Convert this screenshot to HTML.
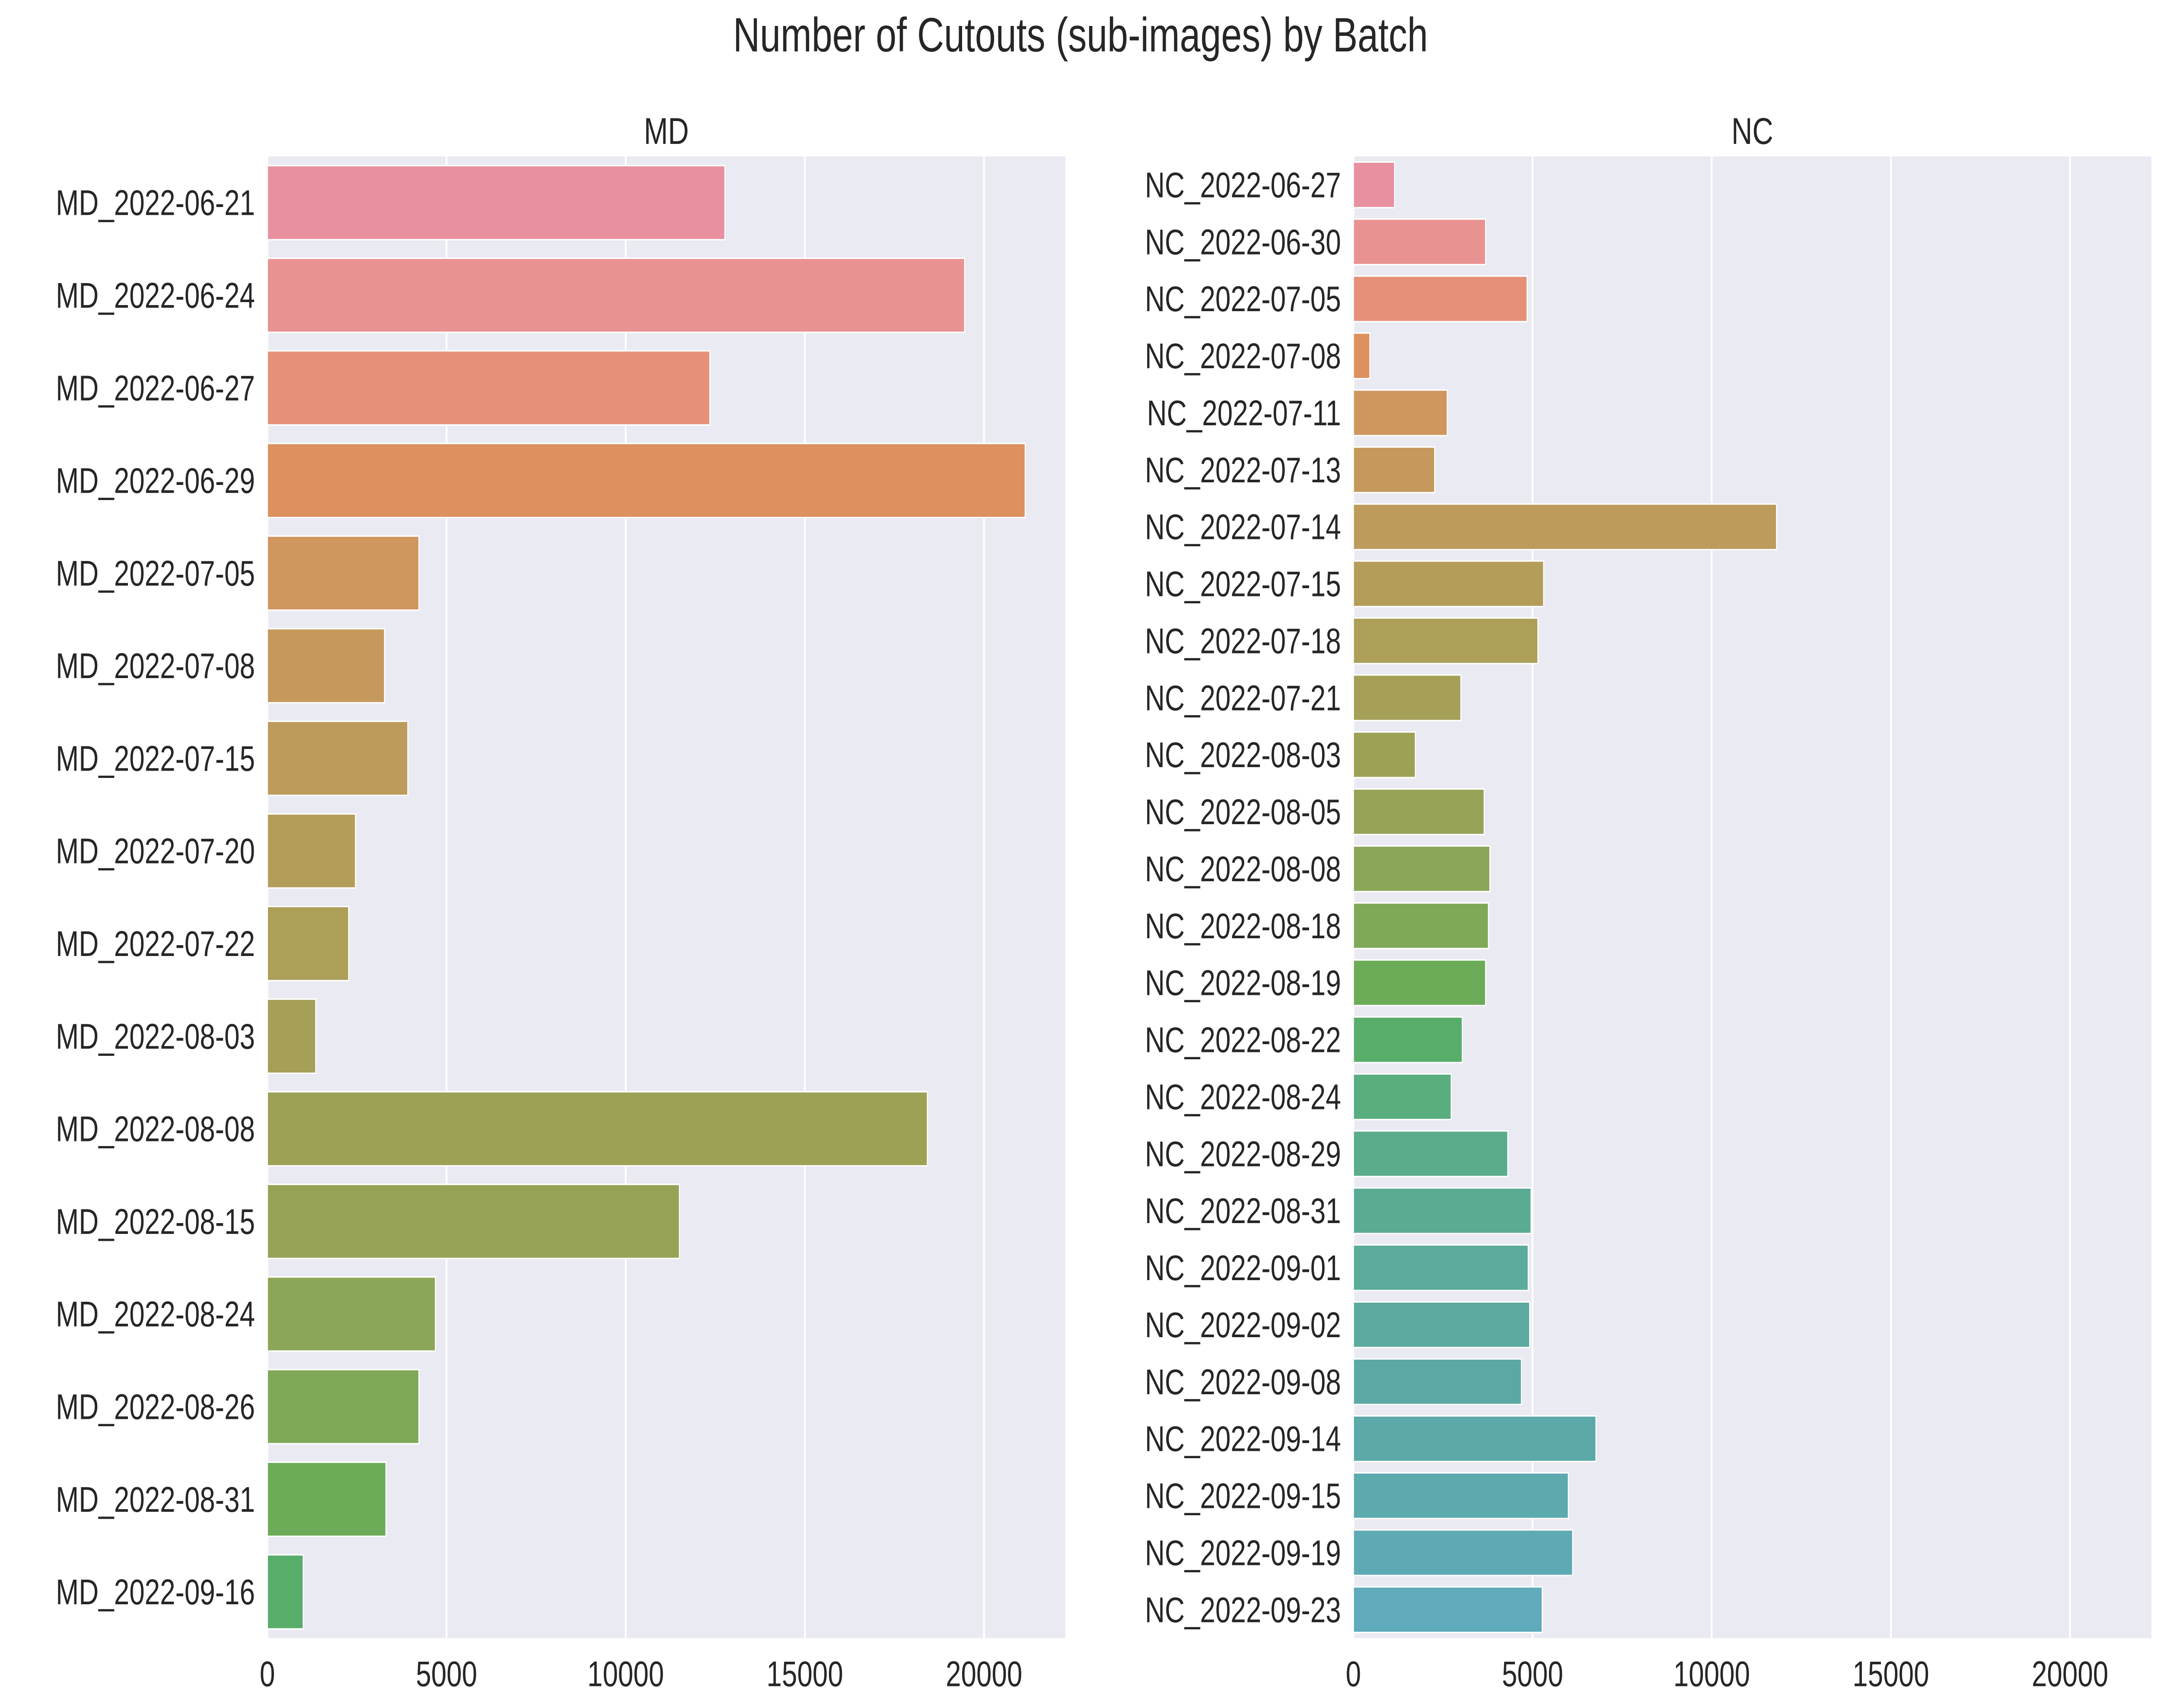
<!DOCTYPE html>
<html><head><meta charset="utf-8"><style>
html,body{margin:0;padding:0;background:#fff;width:100%;height:100%;overflow:hidden;}
svg{display:block;font-family:"Liberation Sans","DejaVu Sans",sans-serif;width:100vw;height:100vh;position:absolute;left:0;top:0;}
</style></head><body>
<svg id="chart" viewBox="0 0 1568 961.3" preserveAspectRatio="none" xmlns="http://www.w3.org/2000/svg">
<rect width="1568" height="961.3" fill="#fff"/>
<text x="784" y="29" text-anchor="middle" font-size="27" fill="#262626">Number of Cutouts (sub-images) by Batch</text>
<g id="plots"></g>
</svg>
<script>
const mdCategories=["MD_2022-06-21","MD_2022-06-24","MD_2022-06-27","MD_2022-06-29","MD_2022-07-05","MD_2022-07-08","MD_2022-07-15","MD_2022-07-20","MD_2022-07-22","MD_2022-08-03","MD_2022-08-08","MD_2022-08-15","MD_2022-08-24","MD_2022-08-26","MD_2022-08-31","MD_2022-09-16"];
const mdValues=[12770,19460,12350,21150,4230,3270,3920,2460,2270,1350,18420,11500,4690,4230,3310,1000];
const ncCategories=["NC_2022-06-27","NC_2022-06-30","NC_2022-07-05","NC_2022-07-08","NC_2022-07-11","NC_2022-07-13","NC_2022-07-14","NC_2022-07-15","NC_2022-07-18","NC_2022-07-21","NC_2022-08-03","NC_2022-08-05","NC_2022-08-08","NC_2022-08-18","NC_2022-08-19","NC_2022-08-22","NC_2022-08-24","NC_2022-08-29","NC_2022-08-31","NC_2022-09-01","NC_2022-09-02","NC_2022-09-08","NC_2022-09-14","NC_2022-09-15","NC_2022-09-19","NC_2022-09-23"];
const ncValues=[1150,3690,4850,460,2620,2270,11810,5310,5150,3000,1730,3650,3810,3770,3690,3040,2730,4310,4960,4880,4920,4690,6770,6000,6120,5270];
const xTicks=[0,5000,10000,15000,20000];
const X_MAX=22270;

const M=[[3.240969941904521,-1.537383177570093,-0.498610760293],[-0.96924363628087,1.87596750150772,0.041555057407175],[0.055630079696993,-0.20397695888897,1.056971514242878]];
const KAPPA=903.2962962,EPS=0.0088564516,RU=0.19783000664283,RV=0.46831999493879;
function bounds(L){const s1=Math.pow(L+16,3)/1560896;const s2=s1>EPS?s1:L/KAPPA;const r=[];
for(let c=0;c<3;c++){const[m1,m2,m3]=M[c];for(let t=0;t<2;t++){const top1=(284517*m1-94839*m3)*s2;const top2=(838422*m3+769860*m2+731718*m1)*L*s2-769860*t*L;const bot=(632260*m3-126452*m2)*s2+126452*t;r.push([top1/bot,top2/bot]);}}return r;}
function maxC(L,H){const h=H/360*2*Math.PI;let mn=Infinity;for(const[sl,ic]of bounds(L)){const len=ic/(Math.sin(h)-sl*Math.cos(h));if(len>=0&&len<mn)mn=len;}return mn;}
function gam(c){return c<=0.0031308?12.92*c:1.055*Math.pow(c,1/2.4)-0.055;}
function husl(H,S,L){const C=maxC(L,H)/100*S;const h=H/180*Math.PI;const U=C*Math.cos(h),V=C*Math.sin(h);
const vu=U/(13*L)+RU,vv=V/(13*L)+RV;const Y=L>8?Math.pow((L+16)/116,3):L/KAPPA;const X=-(9*Y*vu)/((vu-4)*vv-vu*vv);const Z=(9*Y-15*vv*Y-vv*X)/(3*vv);
return M.map(r=>Math.min(1,Math.max(0,gam(r[0]*X+r[1]*Y+r[2]*Z))));}
function desat(rgb,p){const[r,g,b]=rgb;const mx=Math.max(r,g,b),mn=Math.min(r,g,b);const l=(mx+mn)/2;let h=0,s=0;
if(mx!==mn){const d=mx-mn;s=l>0.5?d/(2-mx-mn):d/(mx+mn);if(mx===r)h=((g-b)/d)%6;else if(mx===g)h=(b-r)/d+2;else h=(r-g)/d+4;h/=6;if(h<0)h+=1;}
s*=p;const q=l<0.5?l*(1+s):l+s-l*s,pp=2*l-q;const f=t=>{if(t<0)t+=1;if(t>1)t-=1;if(t<1/6)return pp+(q-pp)*6*t;if(t<1/2)return q;if(t<2/3)return pp+(q-pp)*(2/3-t)*6;return pp;};
return [f(h+1/3),f(h),f(h-1/3)];}
const NTOT=42;
function color(i){const hue=((i/NTOT+0.01)%1)*359;const c=desat(husl(hue,89.1,64.35),0.75).map(v=>v+(1-v)*0.12);return "rgb("+c.map(v=>Math.round(v*255)).join(",")+")";}

const NS="http://www.w3.org/2000/svg";
const root=document.getElementById("plots");
function el(tag,attrs,parent){const e=document.createElementNS(NS,tag);for(const k in attrs)e.setAttribute(k,attrs[k]);(parent||root).appendChild(e);return e;}

function panel(name,title,cats,vals,x0,x1,y0,y1){
  const g=el("g",{});
  
  
  const xs=v=>x0+(x1-x0)*v/X_MAX;
  const bg=el("rect",{x:x0,y:y0,width:x1-x0,height:y1-y0,fill:"#eaeaf2"},g);
  
  
  xTicks.forEach(t=>{
    const ln=el("line",{x1:xs(t),x2:xs(t),y1:y0,y2:y1,stroke:"#fff","stroke-width":1.3},g);
    
    
    const tx=el("text",{x:xs(t),y:y1+27,"text-anchor":"middle","font-size":20,fill:"#262626"},g);
    tx.textContent=t;
    
    
  });
  const band=(y1-y0)/cats.length;
  cats.forEach((c,i)=>{
    const yc=y0+band*(i+0.5);
    const r=el("rect",{x:xs(0),y:yc-band*0.4,width:xs(vals[i])-xs(0),height:band*0.8,fill:color(i),stroke:"#fff","stroke-width":0.8},g);
    
    
    const tx=el("text",{x:x0-9,y:yc+7,"text-anchor":"end","font-size":20,fill:"#262626"},g);
    tx.textContent=c;
    
    
  });
  const tt=el("text",{x:(x0+x1)/2,y:y0-7,"text-anchor":"middle","font-size":21,fill:"#262626"},g);
  tt.textContent=title;
  
  
}
panel("md","MD",mdCategories,mdValues,194,773,88,922);
panel("nc","NC",ncCategories,ncValues,982,1561,88,922);
</script>
</body></html>
